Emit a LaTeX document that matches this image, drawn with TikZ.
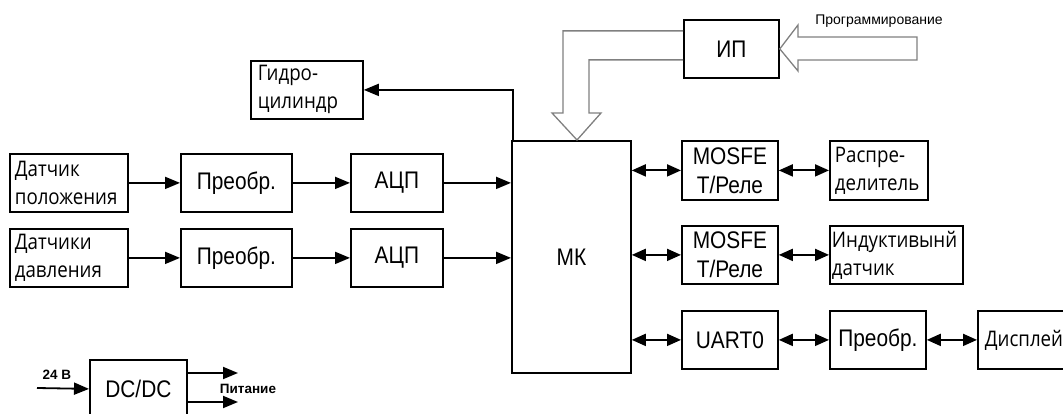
\documentclass[tikz,border=0pt]{standalone}
\usepackage{fontspec}
\setmainfont{Liberation Sans}[FakeStretch=0.87]
\newfontfamily\os{Open Sans}[FakeStretch=0.87]
\newfontfamily\plain{Liberation Sans}
\usetikzlibrary{arrows.meta,calc}
\begin{document}
\begin{tikzpicture}[x=1pt,y=-1pt,
  blk/.style={draw, line width=1.8pt, inner sep=0pt, anchor=north west, align=center,
    font=\fontsize{24}{29}\selectfont},
  tbx/.style={blk, font=\os\fontsize{21.5}{28}\selectfont, align=left},
  arr/.style={line width=1.8pt, -{Triangle[length=15pt,width=12pt]}},
  darr/.style={line width=1.8pt, {Triangle[length=14pt,width=12pt]}-{Triangle[length=14pt,width=12pt]}},
  hol/.style={draw=black!50, line width=1.3pt, line join=miter},
  lbl/.style={inner sep=0pt, font=\plain\bfseries\fontsize{13.5}{16}\selectfont}
]
\useasboundingbox (0,0) rectangle (1063,414);
% left chain
\node[tbx, minimum width=118, minimum height=58, text width=108, inner xsep=5] (d1) at (9,153) {Датчик\\положения};
\node[blk, minimum width=111, minimum height=58] (p1) at (180,153) {Преобр.};
\node[blk, minimum width=92, minimum height=58] (a1) at (350,153) {АЦП};
\node[tbx, minimum width=118, minimum height=58, text width=108, inner xsep=5] (d2) at (9,228) {Датчики\\давления};
\node[blk, minimum width=111, minimum height=58] (p2) at (180,228) {Преобр.};
\node[blk, minimum width=92, minimum height=58] (a2) at (350,228) {АЦП};
\node[tbx, minimum width=112, minimum height=58, text width=98, inner xsep=7] (g) at (250,60) {Гидро-\\цилиндр};
% MK
\node[blk, minimum width=119, minimum height=232] (mk) at (511,140) {МК};
% IP
\node[blk, minimum width=95, minimum height=58] (ip) at (683,19) {ИП};
\node[inner sep=0pt, font=\plain\fontsize{14}{16}\selectfont] (prog) at (879,21) {Программирование};
% right side
\node[blk, minimum width=96, minimum height=59] (m1) at (681,140) {MOSFE\\T/Реле};
\node[tbx, minimum width=96, minimum height=59, text width=88, inner xsep=5] (r1) at (829,140) {Распре-\\делитель};
\node[blk, minimum width=96, minimum height=58] (m2) at (681,225) {MOSFE\\T/Реле};
\node[tbx, minimum width=133, minimum height=58, text width=129, inner xsep=2] (ind) at (829,225) {Индуктивынй\\датчик};
\node[blk, minimum width=96, minimum height=58] (u) at (681,310) {UART0};
\node[blk, minimum width=96, minimum height=58] (p3) at (829,310) {Преобр.};
\node[tbx, minimum width=110, minimum height=58, text width=96, inner xsep=7] (disp) at (977,310) {Дисплей};
% DC/DC
\node[blk, minimum width=97, minimum height=58] (dc) at (89,359) {DC/DC};
\coordinate (in24) at (37,388);
\coordinate (o1) at (238,373);
\coordinate (o2) at (238,402);
\node[lbl] (v24) at (57,375) {24 В};
\node[lbl] (pit) at (248,389) {Питание};
% connectors
\draw[arr] (d1.east) -- (p1.west);
\draw[arr] (p1.east) -- (a1.west);
\draw[arr] (a1.east) -- (a1.east -| mk.west);
\draw[arr] (d2.east) -- (p2.west);
\draw[arr] (p2.east) -- (a2.west);
\draw[arr] (a2.east) -- (a2.east -| mk.west);
\draw[arr] ($(mk.north west)+(2,0)$) |- (g.east);
\draw[darr] (m1.west -| mk.east) -- (m1.west);
\draw[darr] (m1.east) -- (r1.west);
\draw[darr] (m2.west -| mk.east) -- (m2.west);
\draw[darr] (m2.east) -- (ind.west);
\draw[darr] (u.west -| mk.east) -- (u.west);
\draw[darr] (u.east) -- (p3.west);
\draw[darr] (p3.east) -- (disp.west);
\draw[arr] (in24) -- (dc.west);
\draw[arr] (dc.east |- o1) -- (o1);
\draw[arr] (dc.east |- o2) -- (o2);
% hollow arrows
\draw[hol] ($(ip.west)+(0,-18)$) -| (563,113) -- (552,113) -- (mk.north -| 577,0) -- (601,113) -- (589,113) |- ($(ip.west)+(0,11)$);
\draw[hol] (ip.east) -- (798,25) -- (798,37) -- (917,37) -- (917,60) -- (798,60) -- (798,71) -- cycle;
\end{tikzpicture}
\end{document}
